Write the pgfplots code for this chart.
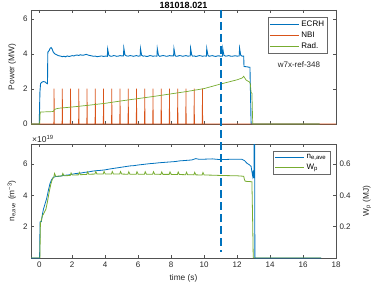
\documentclass[border=0pt]{standalone}
\usepackage{fontspec}
\setmainfont{Liberation Sans}
\usepackage{pgfplots}
\pgfplotsset{compat=1.18}
\definecolor{mblue}{rgb}{0,0.447,0.741}
\definecolor{morange}{rgb}{0.85,0.325,0.098}
\definecolor{mgreen}{rgb}{0.466,0.674,0.188}
\definecolor{axgray}{rgb}{0.15,0.15,0.15}
\pgfplotsset{
  mstyle/.style={scale only axis, width=305pt, height=114pt, xmin=-0.5, xmax=18,
    axis line style={axgray!80, line width=0.5pt},
    tick style={axgray!80, line width=0.5pt}, major tick length=3pt, tick align=inside,
    /pgf/number format/assume math mode=true,
    tick label style={font=\fontsize{8}{9.6}\selectfont, text=axgray},
    label style={font=\fontsize{8.3}{10}\selectfont, text=axgray},
    legend style={draw=axgray!70, line width=0.4pt, font=\fontsize{8}{9.6}\selectfont,
      inner sep=1.5pt, row sep=0pt, cells={anchor=west}},
    legend image code/.code={\draw[##1] (0pt,0pt) -- (29pt,0pt);},
  }
}
\begin{document}
\begin{tikzpicture}
\path[use as bounding box] (-31pt,-165pt) rectangle (343pt,124pt);
% ---------------- top axis ----------------
\begin{axis}[mstyle, at={(0,0)}, anchor=south west, clip mode=individual,
  ymin=0, ymax=6.5, ytick={0,2,4,6}, xtick={0,2,...,18}, xticklabels={},
  ylabel={Power (MW)},
  legend style={at={(0.973,0.941)}, anchor=north east}]
\addplot[mblue, line width=0.9pt] coordinates {
(-0.5,0)(0,0)(0.04,1.8)(0.08,2.3)(0.15,2.38)(0.25,2.42)(0.35,2.4)(0.45,2.32)(0.5,2.3)(0.52,4.1)(0.6,4.18)(0.65,4.3)(0.72,4.36)(0.78,4.28)(0.85,4.1)(0.95,4.0)(1.05,3.95)(1.15,3.9)(1.3,3.87)(1.4,3.84)(1.5,3.86)(1.6,3.83)(1.7,3.88)(1.8,3.85)(1.9,3.87)(2.0,3.9)(2.1,3.88)(2.2,3.92)(2.3,3.93)(2.4,3.91)(2.5,3.95)(2.6,3.92)(2.7,3.93)(2.85,3.97)(3.0,3.92)(3.1,3.9)(3.2,3.88)(3.3,3.86)(3.4,3.87)(3.5,3.84)(3.6,3.85)(3.7,3.87)(3.8,3.88)(3.9,3.85)(4.0,3.87)(4.13,3.86)(4.15,4.28)(4.22,3.92)(4.3,3.87)(4.4,3.86)(4.5,3.9)(4.6,3.89)(4.7,3.86)(4.8,3.87)(4.9,3.9)(5.0,3.88)(5.11,3.88)(5.13,4.33)(5.2,3.93)(5.3,3.88)(5.4,3.87)(5.5,3.9)(5.6,3.89)(5.7,3.86)(5.8,3.88)(5.9,3.9)(6.0,3.87)(6.12,3.88)(6.14,4.3)(6.21,3.92)(6.3,3.87)(6.4,3.88)(6.5,3.85)(6.6,3.86)(6.7,3.9)(6.8,3.89)(6.9,3.86)(7.0,3.88)(7.14,3.87)(7.16,4.3)(7.23,3.92)(7.3,3.86)(7.4,3.88)(7.5,3.9)(7.6,3.89)(7.7,3.86)(7.8,3.87)(7.9,3.9)(8.0,3.88)(8.15,3.88)(8.17,4.3)(8.24,3.92)(8.3,3.86)(8.4,3.87)(8.5,3.9)(8.6,3.89)(8.7,3.86)(8.8,3.88)(8.9,3.9)(9.0,3.87)(9.16,3.88)(9.18,4.32)(9.25,3.93)(9.3,3.87)(9.4,3.88)(9.5,3.85)(9.6,3.87)(9.7,3.9)(9.8,3.89)(9.9,3.86)(10.0,3.88)(10.14,3.87)(10.16,4.3)(10.23,3.92)(10.3,3.86)(10.4,3.88)(10.5,3.9)(10.6,3.87)(10.7,3.85)(10.8,3.88)(10.9,3.89)(11.0,3.86)(11.11,3.87)(11.13,4.3)(11.2,3.92)(11.3,3.87)(11.4,3.88)(11.5,3.9)(11.6,3.87)(11.7,3.86)(11.8,3.88)(11.9,3.89)(12.0,3.87)(12.13,3.88)(12.15,4.32)(12.22,3.92)(12.3,3.87)(12.4,3.87)(12.42,3.28)(12.6,3.26)(12.78,3.23)(12.82,1.5)(12.85,0)(17.0,0)};
\addlegendentry{ECRH}
\addplot[morange, line width=0.7pt] coordinates {
(-0.5,0)(0.885,0)(0.9,2.02)(0.915,0)(1.385,0)(1.4,2.02)(1.415,0)(1.885,0)(1.9,2.02)(1.915,0)(2.385,0)(2.4,2.02)(2.415,0)(2.885,0)(2.9,2.02)(2.915,0)(3.385,0)(3.4,2.02)(3.415,0)(3.885,0)(3.9,2.02)(3.915,0)(4.385,0)(4.4,2.02)(4.415,0)(4.885,0)(4.9,2.02)(4.915,0)(5.385,0)(5.4,2.02)(5.415,0)(5.885,0)(5.9,2.02)(5.915,0)(6.385,0)(6.4,2.02)(6.415,0)(6.885,0)(6.9,2.02)(6.915,0)(7.385,0)(7.4,2.02)(7.415,0)(7.885,0)(7.9,2.02)(7.915,0)(8.385,0)(8.4,2.02)(8.415,0)(8.885,0)(8.9,2.02)(8.915,0)(9.385,0)(9.4,2.02)(9.415,0)(9.885,0)(9.9,2.02)(9.915,0)(18,0)};
\addlegendentry{NBI}
\addplot[mgreen, line width=0.7pt] coordinates {
(-0.5,0)(0.03,0)(0.06,0.68)(0.3,0.69)(0.6,0.7)(0.85,0.71)(0.9,0.8)(1.0,0.86)(1.2,0.9)(2,0.97)(3,1.07)(4,1.18)(5,1.32)(6,1.45)(7,1.58)(8,1.72)(9,1.86)(10,2.02)(11,2.28)(11.5,2.4)(12,2.52)(12.3,2.62)(12.4,2.72)(12.45,2.65)(12.55,2.5)(12.65,2.45)(12.75,2.4)(12.8,2.3)(12.85,1.8)(12.9,1.75)(12.95,0)(17,0)};
\addlegendentry{Rad.}
\node[font=\fontsize{8}{9.6}\selectfont, text=axgray] at (axis cs:15.75,3.37) {w7x-ref-348};
\node[anchor=south, inner sep=0pt, yshift=1.5pt, font=\fontsize{9}{10}\selectfont\bfseries, text=black] at (rel axis cs:0.5,1) {181018.021};
\end{axis}
% ---------------- bottom axis, left ----------------
\begin{axis}[mstyle, at={(0,-20pt)}, anchor=north west, clip mode=individual,
  ymin=0, ymax=7.28, ytick={2,4,6}, ytick pos=left, xtick={0,2,...,18},
  xlabel={time (s)},
  ylabel={n\textsubscript{e,ave} (m\textsuperscript{−3})}]
\addplot[mblue, line width=0.8pt] coordinates {
(-0.5,0)(0.02,0)(0.05,2.3)(0.13,2.33)(0.17,2.65)(0.25,3.1)(0.35,3.45)(0.45,3.8)(0.55,4.3)(0.65,4.75)(0.75,5.0)(0.85,5.15)(1.0,5.2)(1.25,5.22)(1.5,5.28)(1.75,5.3)(2.0,5.35)(2.25,5.4)(2.5,5.42)(2.75,5.47)(3.0,5.5)(3.25,5.55)(3.5,5.58)(3.75,5.6)(4.0,5.63)(4.25,5.68)(4.5,5.72)(4.75,5.76)(5.0,5.8)(5.25,5.84)(5.5,5.88)(5.75,5.9)(6.0,5.94)(6.25,5.97)(6.5,6.0)(6.75,6.03)(7.0,6.05)(7.25,6.08)(7.5,6.1)(7.75,6.12)(8.0,6.14)(8.25,6.16)(8.5,6.2)(8.75,6.22)(9.0,6.24)(9.25,6.26)(9.5,6.35)(9.6,6.32)(9.75,6.3)(10.0,6.31)(10.5,6.33)(11.0,6.28)(11.5,6.3)(12.0,6.31)(12.3,6.3)(12.45,6.22)(12.6,6.05)(12.75,5.95)(12.85,5.85)(12.9,5.5)(12.95,5.2)(12.98,5.6)(13.02,5.1)(13.06,12)(13.08,0)(17.1,0)};
\node[anchor=south west, inner sep=1pt, font=\fontsize{8.5}{10}\selectfont, text=axgray] at (rel axis cs:0,1) {×10\textsuperscript{19}};
\end{axis}
% ---------------- bottom axis, right ----------------
\begin{axis}[mstyle, at={(0,-20pt)}, anchor=north west,
  axis y line*=right, axis x line=none,
  ymin=0, ymax=0.728, ytick={0.2,0.4,0.6},
  yticklabel style={/pgf/number format/fixed, /pgf/number format/precision=1},
  ylabel={W\textsubscript{p} (MJ)},
  ylabel style={at={(axis description cs:1.1016,0.5)}, anchor=center, rotate=0},
  legend style={at={(0.98,0.943)}, anchor=north east}]
\addlegendimage{mblue, line width=0.8pt}
\addlegendentry{n\textsubscript{e,ave}}
\addplot[mgreen, line width=0.8pt] coordinates {
(-0.5,0)(0.04,0)(0.07,0.22)(0.12,0.24)(0.2,0.27)(0.3,0.29)(0.4,0.31)(0.5,0.36)(0.6,0.42)(0.7,0.47)(0.8,0.505)
(0.88,0.515)(0.93,0.54)(1.0,0.522)(1.38,0.524)(1.43,0.54)(1.5,0.525)(1.88,0.527)(1.93,0.543)(2.0,0.53)(2.38,0.531)(2.43,0.547)(2.5,0.532)(2.88,0.534)(2.93,0.55)(3.0,0.535)(3.38,0.536)(3.43,0.552)(3.5,0.536)(3.88,0.537)(3.93,0.553)(4.0,0.537)(4.38,0.536)(4.43,0.552)(4.5,0.536)(4.88,0.536)(4.93,0.552)(5.0,0.536)(5.38,0.535)(5.43,0.551)(5.5,0.535)(5.88,0.535)(5.93,0.551)(6.0,0.535)(6.38,0.535)(6.43,0.551)(6.5,0.535)(6.88,0.535)(6.93,0.551)(7.0,0.535)(7.38,0.534)(7.43,0.55)(7.5,0.534)(7.88,0.534)(7.93,0.55)(8.0,0.534)(8.38,0.533)(8.43,0.549)(8.5,0.533)(8.88,0.532)(8.93,0.548)(9.0,0.532)(9.38,0.531)(9.43,0.547)(9.5,0.531)(9.88,0.530)(9.93,0.546)(10.0,0.530)
(10.5,0.529)(11,0.527)(11.5,0.526)(12,0.525)(12.4,0.522)(12.45,0.5)(12.5,0.49)(12.9,0.487)(12.95,0.2)(12.98,0)(17.1,0)};
\addlegendentry{W\textsubscript{p}}
\end{axis}
% ---------------- dashed marker at t = 11 s ----------------
\begin{axis}[at={(0,0)}, anchor=south west, scale only axis, width=305pt, height=114pt,
  xmin=-0.5, xmax=18, ymin=0, ymax=6.5, hide axis, clip=false]
\addplot[mblue, line width=2.2pt, dash pattern=on 8pt off 4pt] coordinates {(11,6.5)(11,-7.28)};
\end{axis}
\end{tikzpicture}
\end{document}
